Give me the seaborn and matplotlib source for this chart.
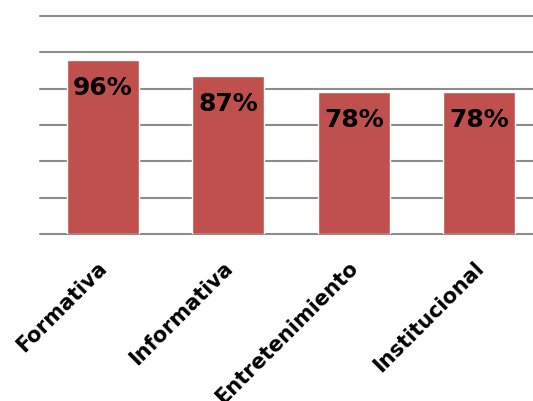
import pandas as pd
import seaborn as sns
import matplotlib.pyplot as plt
from matplotlib.transforms import ScaledTranslation

categorias = ['Formativa', 'Informativa', 'Entretenimiento', 'Institucional']
valores = [96, 87, 78, 78]

df = pd.DataFrame({'categoria': categorias, 'valor': valores})

sns.set_style('white')
plt.rcParams['font.family'] = ['DejaVu Sans']

fig = plt.figure(figsize=(5.33, 4.01), dpi=100)
ax = fig.add_axes([40 / 533, 1 - 234 / 401, 502 / 533, 218 / 401])

sns.barplot(data=df, x='categoria', y='valor', color='#C0504D', saturation=1,
            width=0.57, ax=ax, zorder=3)

ax.set_xlim(-0.5, 3.5)
ax.set_ylim(0, 120)
ax.set_yticks(range(0, 121, 20))
ax.yaxis.grid(True, color='#8C8C8C', linewidth=1.5, zorder=0, clip_on=False)
ax.set_axisbelow(True)
for s in ax.spines.values():
    s.set_visible(False)
ax.tick_params(axis='y', left=False, labelleft=False)
ax.tick_params(axis='x', bottom=False, pad=4)
ax.set_xlabel('')
ax.set_ylabel('')

shift = ScaledTranslation(-6 / 100, -13 / 100, fig.dpi_scale_trans)
for lbl in ax.get_xticklabels():
    lbl.set_rotation(45)
    lbl.set_ha('right')
    lbl.set_rotation_mode('anchor')
    lbl.set_fontsize(15)
    lbl.set_fontweight('bold')
    lbl.set_color('black')
    lbl.set_transform(lbl.get_transform() + shift)

for i, v in enumerate(valores):
    ax.annotate('{}%'.format(v), (i, v), xytext=(0, -28), textcoords='offset pixels',
                ha='center', va='center', fontsize=18, fontweight='bold', color='black',
                zorder=4)

fig.savefig('out.png', dpi=100)
